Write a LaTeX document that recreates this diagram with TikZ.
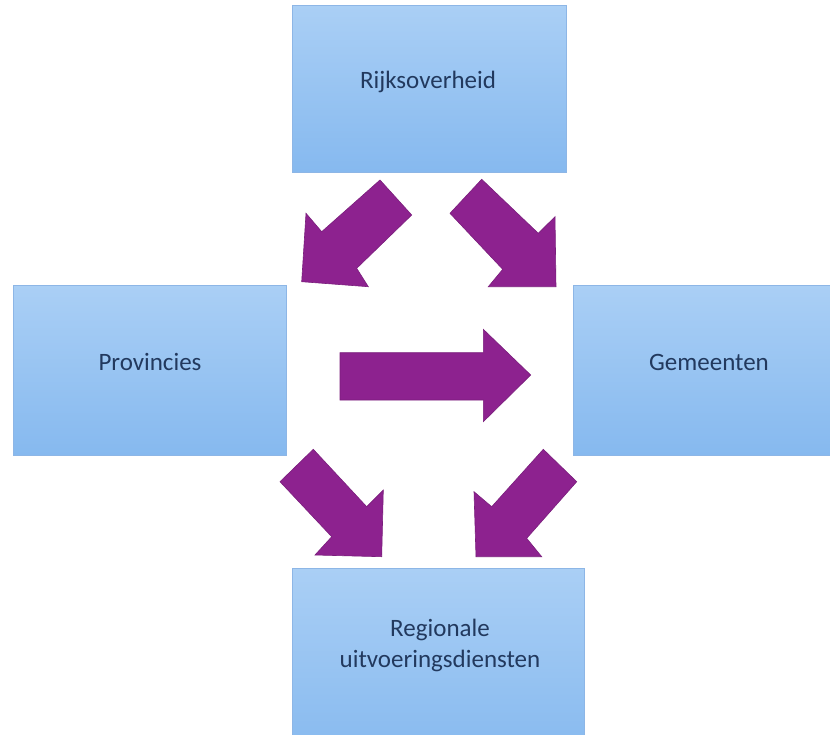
\documentclass[tikz,border=0pt]{standalone}
\usepackage{fontspec}
\setmainfont{Carlito}
\definecolor{boxtop}{HTML}{AACFF5}
\definecolor{boxbot}{HTML}{86B9EF}
\definecolor{boxline}{HTML}{8DB6E6}
\definecolor{txt}{HTML}{22395E}
\definecolor{purp}{HTML}{8D228F}
\definecolor{purpline}{HTML}{7A1E7C}
\begin{document}
\begin{tikzpicture}[x=1pt,y=-1pt,
  orgbox/.style={draw=boxline, line width=0.8pt, top color=boxtop, bottom color=boxbot},
  lbl/.style={text=txt, font=\fontsize{25}{31}\selectfont, align=center, inner sep=0pt},
  blockarrow/.style={fill=purp, draw=purpline, line width=0.6pt, line join=miter}]
\useasboundingbox (0,0) rectangle (830,734);
\clip (0,0) rectangle (830,734);
\fill[white] (0,0) rectangle (830,734);
% boxes
\draw[orgbox] (292,5) rectangle (566,172);
\draw[orgbox] (13,285) rectangle (286,455);
\draw[orgbox] (573,285) rectangle (850,455);
\draw[orgbox] (292,568) rectangle (584,760);
% labels
\node[lbl] (rijk) at (428,82) {Rijksoverheid};
\node[lbl] (prov) at (150,362) {Provincies};
\node[lbl] (gem) at (709,362) {Gemeenten};
\node[lbl] (rud) at (440,645) {Regionale\\uitvoeringsdiensten};
% arrows top
\draw[blockarrow] (380,180) -- (411.7,215) -- (356.7,268.3) -- (368.3,286.7) -- (301.7,281.7) -- (306,213.3) -- (321.7,231.7) -- cycle;
\draw[blockarrow] (481.7,179.3) -- (450,213.3) -- (502.7,269.3) -- (488.3,286.7) -- (556,286.7) -- (555,216.7) -- (538.3,233.3) -- cycle;
% middle arrow
\draw[blockarrow] (340,352.7) -- (483.3,352.7) -- (483.3,329.3) -- (530.7,375) -- (483.3,421.7) -- (483.3,400) -- (340,400) -- cycle;
% arrows bottom
\draw[blockarrow] (313.3,449.3) -- (280,481.7) -- (331.7,536.7) -- (315,555) -- (381.7,556.7) -- (383.3,490) -- (366.7,506.7) -- cycle;
\draw[blockarrow] (543.3,449.3) -- (576.7,481.7) -- (526.7,538.3) -- (541.7,556.7) -- (476,556.7) -- (474,491.7) -- (491.7,506.7) -- cycle;
\end{tikzpicture}
\end{document}
